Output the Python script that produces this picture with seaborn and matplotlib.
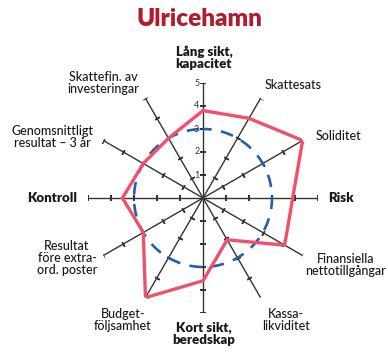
import numpy as np
import matplotlib
matplotlib.use("Agg")
import matplotlib.pyplot as plt
import seaborn as sns

# Key figures for the municipality, scored 0-5 on twelve spokes (clockwise from top)
categories = [
    "Lång sikt,\nkapacitet", "Skattesats", "Soliditet", "Risk",
    "Finansiella\nnettotillgångar", "Kassa-\nlikviditet", "Kort sikt,\nberedskap",
    "Budget-\nföljsamhet", "Resultat\nföre extra-\nord. poster", "Kontroll",
    "Genomsnittligt\nresultat – 3 år", "Skattefin. av\ninvesteringar",
]
values = [3.8, 4.0, 5.0, 3.9, 4.1, 2.1, 3.6, 5.0, 3.0, 3.5, 3.0, 3.0]
average = 3.0
scale_ticks = [1, 2, 3, 4, 5]
bold_labels = {"Lång sikt,\nkapacitet", "Risk", "Kort sikt,\nberedskap", "Kontroll"}
title = "Ulricehamn"

W, H = 388, 356
sns.set_style("white")
plt.rcParams["font.family"] = ["Lato", "DejaVu Sans"]

fig = plt.figure(figsize=(W / 100, H / 100), dpi=100)
fig.patch.set_facecolor("white")

cx, cy, R = 203, 198, 115  # chart centre and radius in pixels
rmax = 5.0
ax = fig.add_axes([(cx - R) / W, (H - cy - R) / H, 2 * R / W, 2 * R / H],
                  projection="polar")
ax.set_theta_zero_location("N")
ax.set_theta_direction(-1)
ax.set_ylim(0, rmax)
ax.set_axis_off()

n = len(categories)
theta = np.arange(n) * 2 * np.pi / n

# spokes with small tick marks at each step
for i, t in enumerate(theta):
    ax.plot([t, t], [0, rmax], color="#333333", lw=1.0, zorder=2)
    rot = 90 - np.degrees(t)
    ax.plot([t] * len(scale_ticks), scale_ticks, ls="none",
            marker=(2, 2, rot), ms=3.8, mew=1.1, color="#333333", zorder=2)

# scale numbers on the top spoke
for v in scale_ticks:
    ax.annotate(str(v), xy=(0, v), xytext=(-4.5, 0), textcoords="offset points",
                ha="center", va="center", fontsize=6.5, color="#333333")

# average ring
ring_t = np.linspace(0, 2 * np.pi, 361)
sns.lineplot(x=ring_t, y=np.full_like(ring_t, average), sort=False, estimator=None,
             color="#1f5fae", lw=1.9, ax=ax, zorder=3)
ax.lines[-1].set_linestyle((1.5, (4.8, 3.6)))

# municipality profile
t_closed = np.append(theta, 2 * np.pi)
v_closed = np.append(values, values[0])
sns.lineplot(x=t_closed, y=v_closed, sort=False, estimator=None,
             color="#f0506b", lw=2.4, ax=ax, zorder=4)
ax.lines[-1].set_solid_joinstyle("miter")
ax.set_ylim(0, rmax)

# spoke labels (pixel anchors around the chart)
label_pos = [
    (204, 58), (293, 85), (338, 136), (341, 198), (346, 265), (286, 320),
    (204, 334), (123, 320), (67, 258), (52, 198), (52, 137), (103, 83),
]
for lab, (x, y) in zip(categories, label_pos):
    bold = lab in bold_labels
    fig.text(x / W, 1 - y / H, lab, ha="center", va="center", multialignment="center",
             fontsize=9.5 if bold else 9, fontweight="heavy" if bold else "medium",
             color="#1a1a1a", linespacing=1.0)

fig.text(199 / W, 1 - 19 / H, title, ha="center", va="center", fontsize=17.5,
         fontweight="heavy", color="#b01c2e")

fig.savefig("out.png", dpi=100, facecolor="white")
